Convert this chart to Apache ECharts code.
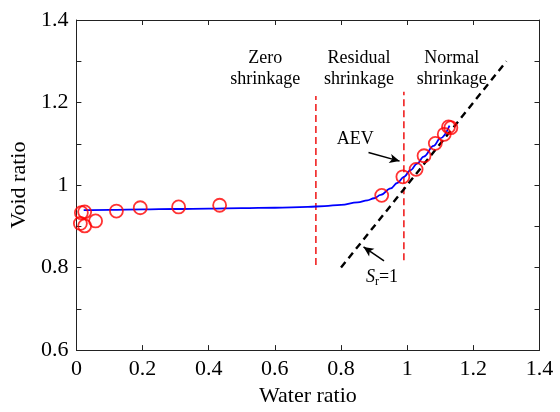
<!DOCTYPE html>
<html>
<head>
<meta charset="utf-8">
<script src="https://cdn.jsdelivr.net/npm/echarts@6/dist/echarts.min.js"></script>
<style>
  html, body { margin: 0; padding: 0; background: #fff; }
  #chart { width: 560px; height: 412px; }
</style>
</head>
<body>
<div id="chart"></div>
<script>
// Measured shrinkage data: water ratio vs. void ratio
var waterRatio = [0.015, 0.025, 0.012, 0.025, 0.058, 0.121, 0.193, 0.309, 0.433, 0.923, 0.987, 1.027, 1.051, 1.085, 1.112, 1.125, 1.132];
var voidRatio  = [0.933, 0.935, 0.907, 0.901, 0.913, 0.937, 0.945, 0.947, 0.951, 0.975, 1.020, 1.038, 1.071, 1.101, 1.123, 1.141, 1.139];

// Fitted shrinkage curve
var fitWater = [0.022, 0.1, 0.2, 0.3, 0.4, 0.5, 0.6, 0.7, 0.75, 0.8, 0.85, 0.88, 0.9, 0.92, 0.95, 0.97, 0.99, 1.01, 1.03, 1.05, 1.08, 1.1, 1.128];
var fitVoid  = [0.939, 0.940, 0.941, 0.942, 0.943, 0.944, 0.945, 0.947, 0.949, 0.952, 0.958, 0.963, 0.968, 0.976, 0.992, 1.005, 1.020, 1.036, 1.052, 1.069, 1.095, 1.113, 1.144];

// Saturation line Sr = 1 (void ratio equals water ratio)
var satWater = [0.8, 1.3];
var satVoid  = [0.8, 1.3];

// Boundaries between shrinkage zones
var zoneBoundaries = [0.724, 0.99];
var zoneBoundaryLow  = [0.806, 0.818];
var zoneBoundaryHigh = [1.216, 1.226];

var xTicks = [0, 0.2, 0.4, 0.6, 0.8, 1, 1.2, 1.4];
var yTicks = [0.6, 0.8, 1, 1.2, 1.4];

function zip(a, b) { return a.map(function (v, i) { return [v, b[i]]; }); }

var FONT = '"Liberation Serif", "Times New Roman", serif';
var AXIS_COLOR = '#222';

var chart = echarts.init(document.getElementById('chart'), null, { renderer: 'canvas' });

var tickCommon = { show: true, inside: true, length: 5, lineStyle: { color: AXIS_COLOR, width: 1 } };
var lineCommon = { show: true, onZero: false, lineStyle: { color: AXIS_COLOR, width: 1 } };

var boundarySeries = zoneBoundaries.map(function (x, i) {
  return {
    type: 'line',
    data: [[x, zoneBoundaryLow[i]], [x, zoneBoundaryHigh[i]]],
    symbol: 'none',
    silent: true,
    lineStyle: { color: '#f02020', width: 1.6, type: [7, 4] },
    z: 2
  };
});

chart.setOption({
  animation: false,
  backgroundColor: '#fff',
  textStyle: { fontFamily: FONT },
  grid: { left: 76, right: 20.5, top: 20, bottom: 55.3, containLabel: false },
  xAxis: [{
    type: 'value', position: 'bottom',
    min: xTicks[0], max: xTicks[xTicks.length - 1], interval: 0.2,
    name: 'Water ratio', nameLocation: 'middle', nameGap: 33,
    nameTextStyle: { fontFamily: FONT, fontSize: 22, color: '#000' },
    axisLine: lineCommon, axisTick: tickCommon,
    axisLabel: { fontFamily: FONT, fontSize: 22, color: '#000', margin: 8 },
    splitLine: { show: false }
  }, {
    type: 'value', position: 'top',
    min: xTicks[0], max: xTicks[xTicks.length - 1], interval: 0.2,
    axisLine: lineCommon, axisTick: tickCommon,
    axisLabel: { show: false }, splitLine: { show: false }
  }],
  yAxis: [{
    type: 'value', position: 'left',
    min: yTicks[0], max: yTicks[yTicks.length - 1], interval: 0.2,
    name: 'Void ratio', nameLocation: 'middle', nameGap: 41, nameRotate: 90,
    nameTextStyle: { fontFamily: FONT, fontSize: 22, color: '#000' },
    axisLine: lineCommon, axisTick: tickCommon,
    minorTick: { show: true, splitNumber: 2, length: 5, lineStyle: { color: AXIS_COLOR, width: 1 } },
    axisLabel: { fontFamily: FONT, fontSize: 22, color: '#000', margin: 8 },
    splitLine: { show: false }
  }, {
    type: 'value', position: 'right',
    min: yTicks[0], max: yTicks[yTicks.length - 1], interval: 0.2,
    axisLine: lineCommon, axisTick: tickCommon,
    minorTick: { show: true, splitNumber: 2, length: 5, lineStyle: { color: AXIS_COLOR, width: 1 } },
    axisLabel: { show: false }, splitLine: { show: false }
  }],
  series: boundarySeries.concat([
    {
      name: 'Sr=1',
      type: 'line',
      data: zip(satWater, satVoid),
      symbol: 'none',
      lineStyle: { color: '#000', width: 2.4, type: [7, 5] },
      z: 3
    },
    {
      name: 'Fitted',
      type: 'line',
      data: zip(fitWater, fitVoid),
      symbol: 'none',
      smooth: 0.4,
      smoothMonotone: 'x',
      lineStyle: { color: '#0000ff', width: 1.8 },
      z: 4
    },
    {
      name: 'Measured',
      type: 'scatter',
      data: zip(waterRatio, voidRatio),
      symbol: 'circle',
      symbolSize: 13,
      itemStyle: { color: 'rgba(0,0,0,0)', borderColor: '#ff0000', borderWidth: 1.8 },
      z: 5
    },
    {
      // annotation arrows
      type: 'line',
      data: [],
      silent: true,
      markLine: {
        silent: true,
        symbol: ['none', 'arrow'],
        symbolSize: [7, 10],
        label: { show: false },
        lineStyle: { color: '#000', width: 1.5, type: 'solid' },
        data: [
          [{ coord: [0.883, 1.079] }, { coord: [0.977, 1.058] }],
          [{ coord: [0.930, 0.816] }, { coord: [0.868, 0.850] }]
        ]
      }
    }
  ])
});

// Text annotations placed in data coordinates
var notes = [
  { at: [0.571, 1.282], text: 'Zero\nshrinkage' },
  { at: [0.854, 1.282], text: 'Residual\nshrinkage' },
  { at: [1.135, 1.282], text: 'Normal\nshrinkage' },
  { at: [0.843, 1.111], text: 'AEV' }
];

var graphics = notes.map(function (n) {
  var p = chart.convertToPixel({ xAxisIndex: 0, yAxisIndex: 0 }, n.at);
  return {
    type: 'text', x: p[0], y: p[1], z: 10,
    style: {
      text: n.text, fill: '#000', font: '18px ' + FONT,
      align: 'center', verticalAlign: 'middle', lineHeight: 21
    }
  };
});

var srPos = chart.convertToPixel({ xAxisIndex: 0, yAxisIndex: 0 }, [0.924, 0.776]);
graphics.push({
  type: 'text', x: srPos[0], y: srPos[1], z: 10,
  style: {
    text: '{i|S}{s|r}{n|=1}',
    align: 'center', verticalAlign: 'middle',
    rich: {
      i: { fontFamily: FONT, fontSize: 18, fontStyle: 'italic', fill: '#000', color: '#000' },
      s: { fontFamily: FONT, fontSize: 12, fill: '#000', color: '#000', padding: [8, 0, 0, 0] },
      n: { fontFamily: FONT, fontSize: 18, fill: '#000', color: '#000' }
    }
  }
});

chart.setOption({ graphic: graphics });
</script>
</body>
</html>
